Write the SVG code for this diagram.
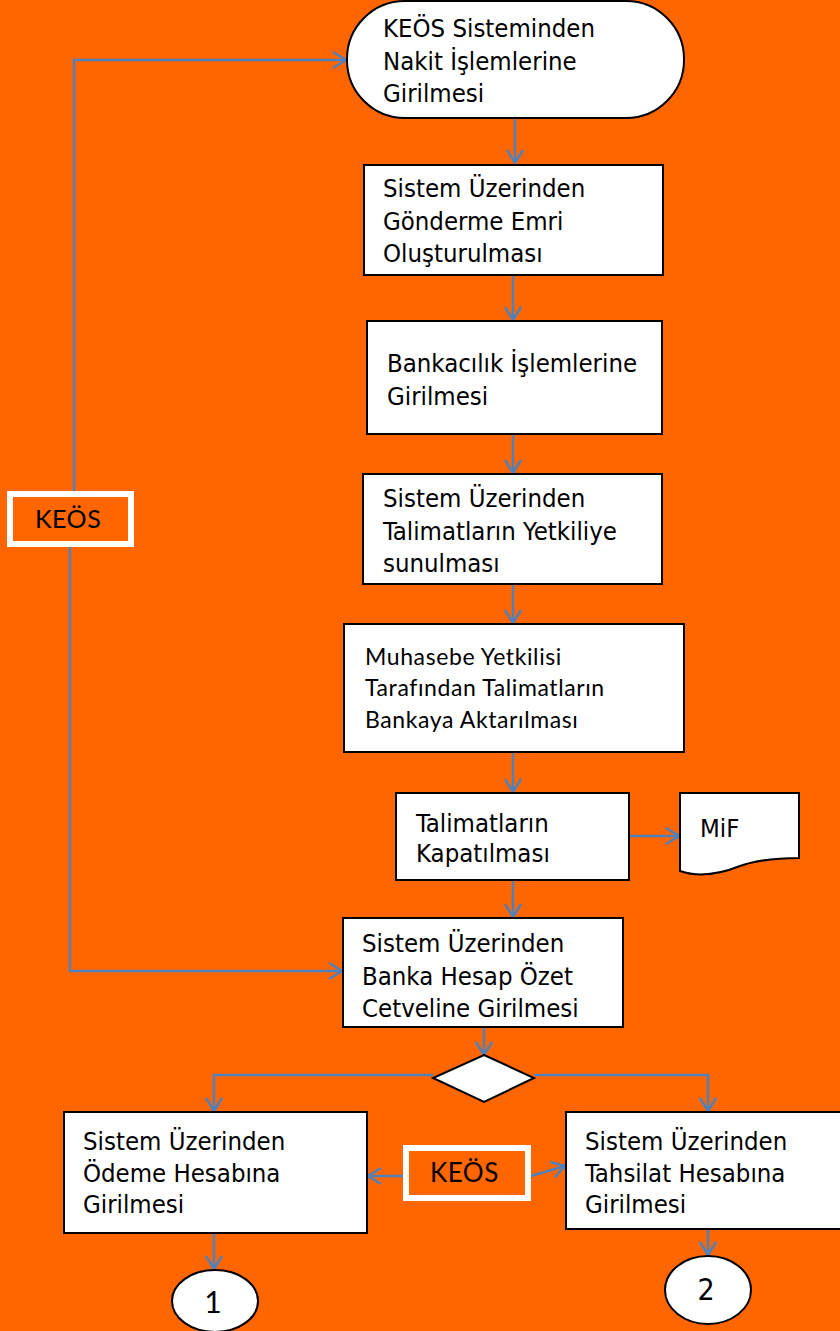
<svg xmlns="http://www.w3.org/2000/svg" width="840" height="1331" viewBox="0 0 840 1331">
<style>
.bg{fill:#FF6600}
.box{fill:#fff;stroke:#000;stroke-width:2}
.tag{fill:#FF6600;stroke:#fff;stroke-width:6}
.t{font-family:"DejaVu Sans Condensed","DejaVu Sans","Liberation Sans",sans-serif;font-stretch:condensed;font-size:25.5px;fill:#000}
.g{font-family:"Lato","Open Sans",sans-serif;fill:#000}
.c{fill:none;stroke:#4F81BD;stroke-width:2.5;marker-end:url(#ah)}
</style>
<defs>
<marker id="ah" markerUnits="userSpaceOnUse" markerWidth="20" markerHeight="20" viewBox="0 0 20 20" refX="17" refY="10" orient="auto">
<path d="M4,2 L17,10 L4,18" fill="none" stroke="#4F81BD" stroke-width="2.5"/>
</marker>
</defs>
<rect class="bg" x="0" y="0" width="840" height="1331"/>
<g id="connectors">
<path class="c" d="M515,118 V163"/>
<path class="c" d="M513,275 V320"/>
<path class="c" d="M513,434 V473"/>
<path class="c" d="M513,584 V623"/>
<path class="c" d="M513,752 V792"/>
<path class="c" d="M629,836 H679"/>
<path class="c" d="M513,880 V917"/>
<path class="c" d="M484,1027 V1055"/>
<path class="c" d="M433,1075 H214 V1111"/>
<path class="c" d="M534,1075 H708 V1111"/>
<path class="c" d="M403,1176 H368"/>
<path class="c" d="M531,1176 L565,1166"/>
<path class="c" d="M214,1233 V1269"/>
<path class="c" d="M708,1229 V1255"/>
<path class="c" d="M74,491 V60 H346"/>
<path class="c" d="M70,547 V971 H342"/>
</g>
<g id="n1">
<rect class="box" x="347" y="1" width="337" height="117" rx="58" ry="58"/>
<text class="t" x="383" y="37">KEÖS Sisteminden</text>
<text class="t" x="383" y="70">Nakit İşlemlerine</text>
<text class="t" x="383" y="102">Girilmesi</text>
</g>
<g id="n2">
<rect class="box" x="364" y="165" width="299" height="110"/>
<text class="t" x="383" y="197">Sistem Üzerinden</text>
<text class="t" x="383" y="230">Gönderme Emri</text>
<text class="t" x="383" y="262">Oluşturulması</text>
</g>
<g id="n3">
<rect class="box" x="367" y="321" width="295" height="113"/>
<text class="t" x="387" y="372">Bankacılık İşlemlerine</text>
<text class="t" x="387" y="405">Girilmesi</text>
</g>
<g id="n4">
<rect class="box" x="363" y="474" width="299" height="110"/>
<text class="t" x="383" y="507">Sistem Üzerinden</text>
<text class="t" x="383" y="540">Talimatların Yetkiliye</text>
<text class="t" x="383" y="572">sunulması</text>
</g>
<g id="n5">
<rect class="box" x="344" y="624" width="340" height="128"/>
<text class="g" x="365" y="665" font-size="23" letter-spacing="0.6">Muhasebe Yetkilisi</text>
<text class="g" x="365" y="696" font-size="23" letter-spacing="0.6">Tarafından Talimatların</text>
<text class="g" x="365" y="728" font-size="23" letter-spacing="0.6">Bankaya Aktarılması</text>
</g>
<g id="n6">
<rect class="box" x="396" y="793" width="233" height="87"/>
<text class="t" x="416" y="832">Talimatların</text>
<text class="t" x="416" y="862">Kapatılması</text>
</g>
<g id="n7">
<path class="box" d="M680,793 H799 V858 C780,858 760,859 740,866 C720,874 700,878 680,871 Z"/>
<text class="t" x="700" y="837">MiF</text>
</g>
<g id="n8">
<rect class="box" x="343" y="918" width="280" height="109"/>
<text class="t" x="362" y="952">Sistem Üzerinden</text>
<text class="t" x="362" y="985">Banka Hesap Özet</text>
<text class="t" x="362" y="1017">Cetveline Girilmesi</text>
</g>
<g id="keos1">
<rect class="tag" x="10" y="494" width="121" height="50"/>
<text class="g" x="35" y="528" font-size="25" letter-spacing="0.5">KEÖS</text>
</g>
<g id="decision">
<polygon class="box" points="484,1055 534,1078 484,1102 433,1078"/>
</g>
<g id="n9">
<rect class="box" x="64" y="1112" width="303" height="121"/>
<text class="t" x="83" y="1150">Sistem Üzerinden</text>
<text class="t" x="83" y="1182">Ödeme Hesabına</text>
<text class="t" x="83" y="1213">Girilmesi</text>
</g>
<g id="n10">
<rect class="box" x="566" y="1112" width="290" height="117"/>
<text class="t" x="585" y="1150">Sistem Üzerinden</text>
<text class="t" x="585" y="1182">Tahsilat Hesabına</text>
<text class="t" x="585" y="1213">Girilmesi</text>
</g>
<g id="keos2">
<rect class="tag" x="406" y="1148" width="122" height="50"/>
<text class="g" x="430" y="1182" font-size="26" letter-spacing="0.5">KEÖS</text>
</g>
<g id="c1">
<ellipse class="box" cx="215" cy="1301" rx="43" ry="31"/>
<text class="g" x="213" y="1313" font-size="30" text-anchor="middle">1</text>
</g>
<g id="c2">
<ellipse class="box" cx="708" cy="1290" rx="43" ry="34"/>
<text class="t" x="706" y="1300" style="font-size:30px" text-anchor="middle">2</text>
</g>
</svg>
